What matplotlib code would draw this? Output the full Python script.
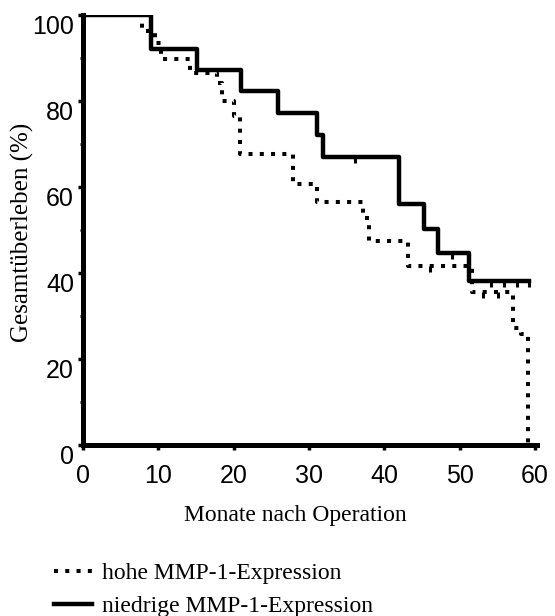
import numpy as np
import matplotlib
matplotlib.use("Agg")
import matplotlib.pyplot as plt
from matplotlib.ticker import MultipleLocator

# Kaplan-Meier Stufen (Monate, Überleben in %)
low_t = [0, 9.0, 15.2, 21.0, 25.9, 31.0, 31.8, 42.0, 45.2, 47.1, 51.3, 59.2]
low_s = [100, 92.1, 87.3, 82.4, 77.1, 72.2, 66.9, 56.0, 50.2, 44.7, 38.2, 38.2]
low_cens = [36.1, 49.0, 54.1, 55.9, 57.6, 59.2]

high_t = [0, 7.8, 8.6, 9.5, 10.4, 14.2, 17.8, 18.5, 20.1, 20.8, 27.9, 31.0,
          37.2, 37.9, 43.1, 51.7, 57.1, 58.1, 59.1]
high_s = [100, 97.0, 95.8, 93.6, 89.8, 86.5, 84.2, 80.0, 76.5, 67.6, 60.6, 56.5,
          52.8, 47.5, 41.7, 35.5, 27.3, 25.9, 0]
high_cens = [46.1, 53.1, 55.1]

labels = ["hohe MMP-1-Expression", "niedrige MMP-1-Expression"]
x_ticks = [0, 10, 20, 30, 40, 50, 60]
y_ticks = [0, 20, 40, 60, 80, 100]


def step_value(t, times, surv):
    """Survival value at time t for a post-step curve"""
    idx = np.searchsorted(times, t, side="right") - 1
    return surv[idx]


SANS = "Liberation Sans"
SERIF = "Liberation Serif"

fig = plt.figure(figsize=(5.55, 6.16), dpi=100)
ax = fig.add_axes([0.1495, 0.2776, 0.8145, 0.698])

dot_style = (0, (1, 1.8))
h_line, = ax.step(high_t, high_s, where="post", color="black", lw=2.9,
                  linestyle=dot_style, label=labels[0])
l_line, = ax.step(low_t, low_s, where="post", color="black", lw=3.2,
                  label=labels[1])

# censoring marks (short ticks hanging under the curve)
cens_marker = [(0, 0), (0, -1)]
ax.plot(low_cens, [step_value(t, low_t, low_s) for t in low_cens],
        linestyle="none", marker=cens_marker, markersize=9,
        markeredgewidth=2.2, color="black")
ax.plot(high_cens, [step_value(t, high_t, high_s) for t in high_cens],
        linestyle="none", marker=cens_marker, markersize=8,
        markeredgewidth=2.2, color="black")

ax.set_xlim(0, 60)
ax.set_ylim(0, 100)
ax.set_xticks(x_ticks)
ax.set_yticks(y_ticks)
ax.yaxis.set_minor_locator(MultipleLocator(10))

for side in ["top", "right"]:
    ax.spines[side].set_visible(False)
for side in ["left", "bottom"]:
    ax.spines[side].set_linewidth(3.6)
ax.spines["bottom"].set_bounds(0, 60.3)

ax.tick_params(axis="both", which="major", direction="out", length=3.5,
               width=2.5, labelsize=18)
ax.tick_params(axis="y", which="minor", direction="out", length=2.5, width=2)
ax.tick_params(axis="x", pad=10)
ax.tick_params(axis="y", pad=3)
for lab in ax.get_xticklabels() + ax.get_yticklabels():
    lab.set_fontfamily(SANS)
for lab in ax.get_yticklabels():
    lab.set_va("top")

fig.text(295 / 555, 1 - 515 / 616, "Monate nach Operation", family=SERIF,
         fontsize=17, ha="center", va="center")
fig.text(22 / 555, 1 - 232 / 616, "Gesamtüberleben (%)", family=SERIF,
         fontsize=18, ha="center", va="center", rotation=90)

fig.legend(handles=[h_line, l_line], labels=labels, loc="upper left",
           bbox_to_anchor=(45 / 555, 1 - 553 / 616), frameon=False,
           prop={"family": SERIF, "size": 17}, handlelength=1.6,
           handletextpad=0.4, labelspacing=0.5, borderaxespad=0)

fig.savefig("out.png", dpi=100)
